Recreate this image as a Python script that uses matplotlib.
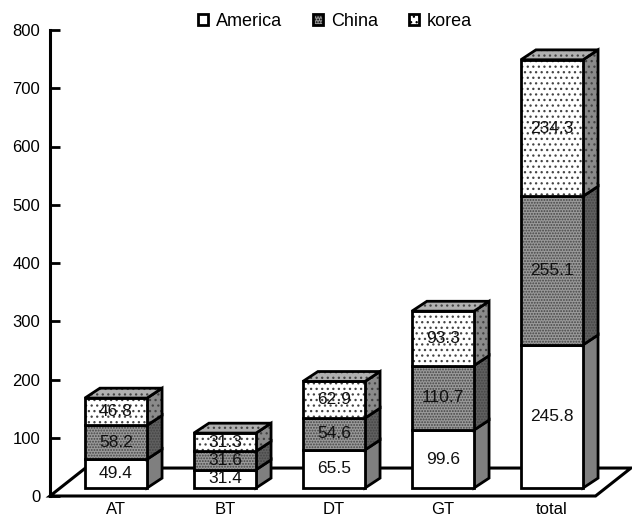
import matplotlib
matplotlib.use('Agg')
import matplotlib.pyplot as plt
from matplotlib.patches import Patch, Polygon

plt.rcParams['font.family'] = ['Liberation Sans', 'DejaVu Sans']
plt.rcParams['hatch.linewidth'] = 0.9

categories = ['AT', 'BT', 'DT', 'GT', 'total']
america = [49.4, 31.4, 65.5, 99.6, 245.8]
china = [58.2, 31.6, 54.6, 110.7, 255.1]
korea = [46.8, 31.3, 62.9, 93.3, 234.3]
yticks = [0, 100, 200, 300, 400, 500, 600, 700, 800]

# pseudo-3d geometry, in data units
BAR_W = 0.57
DEPTH_X = 0.138
DEPTH_Y = 17
BASE = 13.7
FLOOR_LEFT = -0.605
FLOOR_RIGHT = 4.40
FLOOR_X = 0.325
FLOOR_Y = 48

# face, hatch for the front and side of each series
STYLES = {
    'America': dict(front=('white', None), side=('#7f7f7f', None)),
    'China': dict(front=('#9a9a9a', '......'), side=('#606060', '......')),
    'korea': dict(front=('white', '...'), side=('#8a8a8a', '...')),
}
TOP_STYLE = ('#b0b0b0', '...')


def face(ax, pts, color, hatch, z):
    ax.add_patch(Polygon(pts, closed=True, facecolor=color, edgecolor='#444444',
                         hatch=hatch, linewidth=0, zorder=z, clip_on=False))
    ax.add_patch(Polygon(pts, closed=True, fill=False, edgecolor='black',
                         linewidth=2, joinstyle='miter', zorder=z + 0.1, clip_on=False))


fig = plt.figure(figsize=(6.32, 5.16), dpi=100)
ax = fig.add_axes([50 / 632, 20 / 516, 582 / 632, 466 / 516])
ax.set_xlim(FLOOR_LEFT, FLOOR_LEFT + 582 / 109)
ax.set_ylim(0, 800)

# floor
ax.add_patch(Polygon([(FLOOR_LEFT, 0), (FLOOR_RIGHT, 0), (FLOOR_RIGHT + FLOOR_X, FLOOR_Y),
                      (FLOOR_LEFT + FLOOR_X, FLOOR_Y)], closed=True, facecolor='white',
                     edgecolor='black', linewidth=2.2, zorder=1, clip_on=False))

series = [('America', america), ('China', china), ('korea', korea)]
for i in range(len(categories)):
    x0 = i - BAR_W / 2
    x1 = i + BAR_W / 2
    bottom = BASE
    z = 2
    for name, values in series:
        top = bottom + values[i]
        style = STYLES[name]
        face(ax, [(x1, bottom), (x1 + DEPTH_X, bottom + DEPTH_Y),
                  (x1 + DEPTH_X, top + DEPTH_Y), (x1, top)], *style['side'], z)
        face(ax, [(x0, bottom), (x1, bottom), (x1, top), (x0, top)], *style['front'], z + 0.2)
        ax.text(i, (bottom + top) / 2, f'{values[i]:.1f}', ha='center', va='center',
                fontsize=12.5, color='#111111', zorder=5)
        bottom = top
        z += 1
    face(ax, [(x0, bottom), (x1, bottom), (x1 + DEPTH_X, bottom + DEPTH_Y),
              (x0 + DEPTH_X, bottom + DEPTH_Y)], *TOP_STYLE, z)

for side in ['top', 'right', 'bottom']:
    ax.spines[side].set_visible(False)
ax.spines['left'].set_linewidth(2.2)
ax.set_yticks(yticks)
ax.tick_params(axis='y', direction='in', length=7, width=2, labelsize=12, pad=7)
ax.set_xticks(range(len(categories)))
ax.set_xticklabels(categories, fontsize=12)
ax.tick_params(axis='x', length=0, pad=4.5)

handles = [Patch(facecolor='white', edgecolor='black', linewidth=2),
           Patch(facecolor='#9a9a9a', edgecolor='black', linewidth=2, hatch='......'),
           Patch(facecolor='white', edgecolor='black', linewidth=2, hatch='...')]
fig.legend(handles, [s[0] for s in series], loc='upper left', bbox_to_anchor=(198 / 632, 1 - 13 / 516),
           ncol=3, frameon=False, fontsize=13, handlelength=0.55, handleheight=0.55,
           handletextpad=0.45, columnspacing=1.7, borderaxespad=0, borderpad=0)

fig.savefig('out.png', dpi=100)
